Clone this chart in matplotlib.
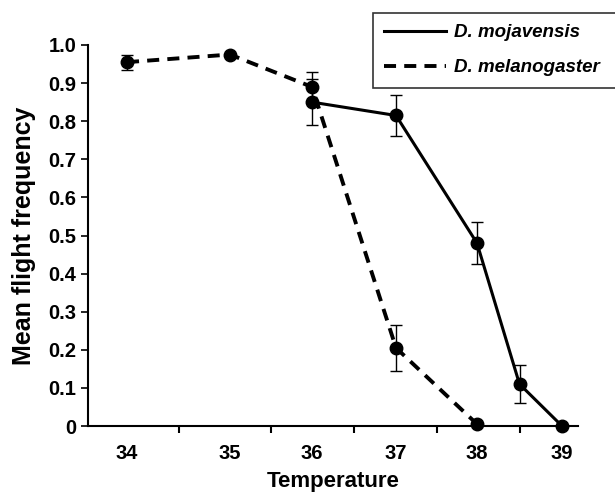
import numpy as np
import matplotlib
matplotlib.use("Agg")
import matplotlib.pyplot as plt
from matplotlib.lines import Line2D

plt.rcParams['font.family'] = ['Liberation Sans', 'DejaVu Sans']

# Data
temp_labels = [34, 35, 36, 37, 38, 39]
mel_temp = [34, 35, 36, 37, 38]
mel_mean = [0.955, 0.975, 0.89, 0.205, 0.005]
mel_err = [0.02, 0.0, 0.04, 0.06, 0.0]
moj_temp = [36, 37, 38, 38.5, 39]
moj_mean = [0.85, 0.815, 0.48, 0.11, 0.0]
moj_err = [0.06, 0.055, 0.055, 0.05, 0.0]

# the printed axis is not evenly spaced; piecewise-linear axis positions
axis_temps = [33.6, 34, 35, 36, 37, 38, 39, 39.2]
axis_pos = [88, 127, 230, 312, 396, 477, 562, 578]

def fwd(t):
    return np.interp(t, axis_temps, axis_pos)

def inv(p):
    return np.interp(p, axis_pos, axis_temps)

fig = plt.figure(figsize=(6.15, 4.97), dpi=100)
ax = fig.add_axes([88/615, 1-426/497, (578-88)/615, (426-45)/497])
ax.set_xscale('function', functions=(fwd, inv))
ax.set_xlim(33.6, 39.2)
ax.set_ylim(0, 1.0)

ax.errorbar(moj_temp, moj_mean, yerr=moj_err, color='black', lw=2.2, ls='-',
            marker='o', ms=9, elinewidth=1.0, capsize=4, capthick=1.0,
            clip_on=False, zorder=3, label='D. mojavensis')
ax.errorbar(mel_temp, mel_mean, yerr=mel_err, color='black', lw=2.8, ls=(0, (3.1, 2.1)),
            marker='o', ms=9, elinewidth=1.0, capsize=4, capthick=1.0,
            clip_on=False, zorder=3, label='D. melanogaster')

for s in ['top', 'right']:
    ax.spines[s].set_visible(False)
ax.spines['left'].set_linewidth(1.5)
ax.spines['bottom'].set_linewidth(1.5)

yt = np.arange(0, 1.01, 0.1)
ax.set_yticks(yt)
ax.set_yticklabels(['0'] + [f'{v:.1f}' for v in yt[1:]], fontsize=14.5, fontweight='bold')
ax.tick_params(axis='y', direction='out', length=5, width=1.2, pad=3.5)

ax.set_xticks([34.5, 35.5, 36.5, 37.5, 38.5])
ax.set_xticklabels([])
ax.tick_params(axis='x', direction='out', length=5, width=1.5)
ax.set_xticks(temp_labels, minor=True)
ax.set_xticklabels([str(t) for t in temp_labels], minor=True, fontsize=14.5, fontweight='bold')
ax.tick_params(axis='x', which='minor', length=0, pad=13)

ax.set_xlabel('Temperature', fontsize=16, fontweight='bold', labelpad=6)
ax.set_ylabel('Mean flight frequency', fontsize=18, fontweight='bold', labelpad=9)

h = [Line2D([], [], color='black', lw=2.2, ls='-'),
     Line2D([], [], color='black', lw=2.8, ls=(0, (3.1, 2.1)))]
leg = fig.legend(h, ['D. mojavensis', 'D. melanogaster'], loc='upper left',
                 bbox_to_anchor=(373/615, 1-13/497, 300/615, 0.0), mode='expand',
                 borderaxespad=0.0, frameon=True, fancybox=False,
                 edgecolor='black', handlelength=3.3, handletextpad=0.4,
                 labelspacing=0.95, borderpad=0.6,
                 prop={'style': 'italic', 'weight': 'bold', 'size': 13.5})
leg.get_frame().set_linewidth(1.2)

fig.savefig('out.png', dpi=100)
